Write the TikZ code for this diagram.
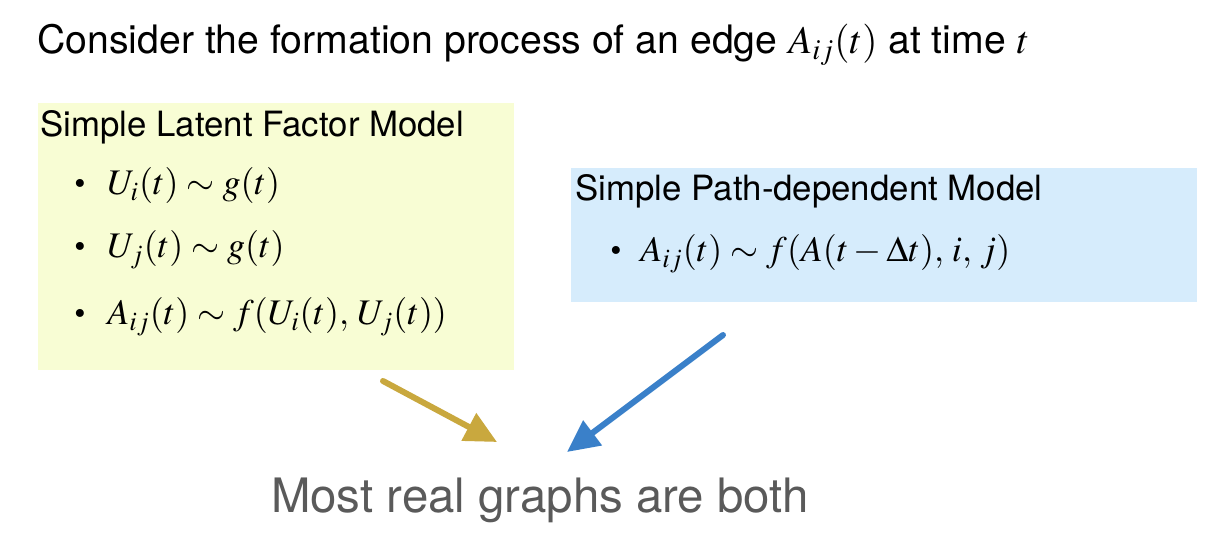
\documentclass[tikz,border=0pt]{standalone}
\usepackage{mathptmx}
\usepackage[no-math]{fontspec}
\setmainfont{TeX Gyre Heros}
\usetikzlibrary{arrows.meta, positioning}

\definecolor{latentfill}{RGB}{248,253,212}
\definecolor{pathfill}{RGB}{214,236,252}
\definecolor{latentarrow}{RGB}{201,168,62}
\definecolor{patharrow}{RGB}{58,128,201}
\definecolor{bottomgray}{RGB}{90,90,90}

\begin{document}
\begin{tikzpicture}[x=0.5pt,y=-0.5pt,
    modelbox/.style={anchor=north west, inner sep=0pt, outer sep=0pt},
    boxtitle/.style={anchor=base west, inner sep=0pt, font=\fontsize{17.4}{20}\selectfont},
    formula/.style={anchor=base west, inner sep=0pt, font=\fontsize{18}{21}\selectfont},
    dot/.style={anchor=base, inner sep=0pt, font=\fontsize{16}{20}\selectfont},
    crayon/.style={line width=3pt, line cap=round, -{Triangle[length=16pt,width=15pt]}}]
\useasboundingbox (0,0) rectangle (1218,560);

% Heading
\node[anchor=base west, inner sep=0pt, font=\fontsize{19.6}{23}\selectfont] (heading) at (37,54)
    {Consider the formation process of an edge $A_{ij}(t)$ at time $t$};

% Latent factor model
\node[modelbox, fill=latentfill, minimum width=238pt, minimum height=133.5pt] (lfm) at (38,103) {};
\node[boxtitle] (lfmtitle) at (40,137) {Simple Latent Factor Model};
\foreach \i/\y/\txt in {1/195/{$U_i(t) \sim g(t)$}, 2/258/{$U_j(t) \sim g(t)$}, 3/325/{$A_{ij}(t) \sim f(U_i(t),\, U_j(t))$}} {
    \node[dot] (lfmdot\i) at (80,\y) {\textbullet};
    \node[formula] (lfmitem\i) at (107,\y) {\txt};
}

% Path-dependent model
\node[modelbox, fill=pathfill, minimum width=313pt, minimum height=67pt] (pdm) at (571,168) {};
\node[boxtitle] (pdmtitle) at (575,201) {Simple Path-dependent Model};
\node[dot] (pdmdot) at (616,262) {\textbullet};
\node[formula] (pdmitem) at (640,262) {$A_{ij}(t) \sim f(A(t-\Delta t),\, i,\, j)$};

% Conclusion
\node[anchor=base, inner sep=0pt, text=bottomgray, font=\fontsize{23.7}{28}\selectfont] (both) at (540,512)
    {Most real graphs are both};

% Arrows
\coordinate (lfmtail) at (383,381);
\coordinate (lfmhead) at (497,442);
\coordinate (pdmtail) at (723,335);
\coordinate (pdmhead) at (567,452);
\draw[crayon, latentarrow] (lfmtail) -- (lfmhead);
\draw[crayon, patharrow] (pdmtail) -- (pdmhead);
\end{tikzpicture}
\end{document}
